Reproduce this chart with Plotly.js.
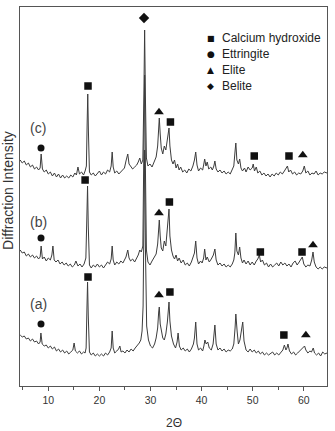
<!DOCTYPE html>
<html>
<head>
<meta charset="utf-8">
<script src="https://cdn.plot.ly/plotly-3.0.1.min.js"></script>
<style>html,body{margin:0;padding:0;background:#fff;}#chart{width:335px;height:431px;}</style>
</head>
<body>
<div id="chart"></div>
<script>
// XRD patterns: [2theta, intensity (arbitrary, stacked)]
const patternC = [[4.5,226],[4.9,223],[5.3,225],[5.7,221],[6.1,223],[6.5,219],[6.9,221],[7.3,217],[7.7,219],[8.1,216],[8.4,218],[8.6,232],[8.85,217],[9.2,214],[9.6,216],[10.0,212],[10.4,214],[10.8,210],[11.2,213],[11.6,209],[12.0,212],[12.4,208],[12.8,211],[13.2,208],[13.6,210],[14.0,208],[14.4,211],[14.8,209],[15.2,213],[15.5,211],[15.8,219],[16.1,212],[16.5,214],[16.9,211],[17.2,215],[17.45,220],[17.6,262],[17.72,292],[17.85,255],[18.05,214],[18.4,211],[18.8,213],[19.2,210],[19.6,212],[20.0,215],[20.4,211],[20.8,214],[21.2,212],[21.6,216],[22.0,214],[22.3,220],[22.5,234],[22.7,219],[23.0,213],[23.4,215],[23.8,212],[24.2,214],[24.6,216],[24.9,218],[25.2,225],[25.55,232],[25.8,222],[26.1,220],[26.5,217],[26.9,219],[27.3,221],[27.6,224],[27.9,228],[28.2,222],[28.5,226],[28.7,290],[28.85,356],[29.0,290],[29.2,228],[29.5,220],[29.9,222],[30.3,219],[30.7,224],[31.1,229],[31.4,240],[31.6,262],[31.72,268],[31.9,252],[32.1,238],[32.4,232],[32.7,240],[33.0,236],[33.3,246],[33.5,256],[33.62,258],[33.8,240],[34.1,226],[34.4,222],[34.7,226],[35.0,218],[35.3,222],[35.6,216],[35.9,219],[36.3,214],[36.7,216],[37.1,213],[37.5,217],[37.9,215],[38.3,220],[38.6,226],[38.85,234],[39.1,221],[39.4,215],[39.8,218],[40.2,216],[40.4,221],[40.6,227],[40.85,220],[41.1,224],[41.4,217],[41.8,219],[42.1,216],[42.4,220],[42.6,225],[42.85,217],[43.2,214],[43.6,216],[44.0,213],[44.4,215],[44.8,212],[45.2,214],[45.6,212],[46.0,216],[46.3,220],[46.55,235],[46.7,243],[46.9,226],[47.2,222],[47.45,227],[47.7,218],[48.0,215],[48.4,218],[48.7,214],[49.1,219],[49.5,216],[49.9,218],[50.1,222],[50.35,215],[50.7,219],[51.0,213],[51.4,215],[51.8,211],[52.2,213],[52.6,210],[53.0,212],[53.4,209],[53.8,212],[54.2,210],[54.6,213],[55.0,211],[55.4,214],[55.8,212],[56.2,215],[56.55,218],[56.8,220],[57.05,214],[57.4,216],[57.8,212],[58.2,214],[58.6,211],[59.0,213],[59.4,212],[59.8,215],[60.1,220],[60.4,213],[60.8,215],[61.2,211],[61.6,213],[62.0,212],[62.4,215],[62.8,211],[63.2,213],[63.6,212],[64.0,214],[64.54,213]];

const patternB = [[4.5,136],[4.9,133],[5.3,134],[5.7,130],[6.1,132],[6.5,129],[6.9,131],[7.3,128],[7.7,130],[8.1,127],[8.4,129],[8.6,140],[8.85,127],[9.2,129],[9.6,125],[10.0,128],[10.4,126],[10.7,131],[10.9,140],[11.15,126],[11.5,124],[11.9,126],[12.3,122],[12.7,124],[13.1,121],[13.5,123],[13.9,120],[14.3,122],[14.7,119],[15.1,121],[15.4,125],[15.8,120],[16.2,122],[16.6,119],[17.0,122],[17.35,128],[17.55,170],[17.68,200],[17.82,160],[18.05,121],[18.4,118],[18.8,121],[19.2,119],[19.6,122],[20.0,119],[20.4,121],[20.8,118],[21.2,121],[21.6,124],[22.0,122],[22.3,127],[22.5,140],[22.7,126],[23.0,121],[23.4,124],[23.8,122],[24.2,125],[24.6,123],[24.9,126],[25.2,129],[25.55,136],[25.8,128],[26.1,125],[26.5,127],[26.9,124],[27.3,128],[27.6,131],[27.9,136],[28.2,134],[28.5,140],[28.7,230],[28.85,311],[29.0,220],[29.2,136],[29.5,124],[29.9,121],[30.3,125],[30.7,128],[31.1,132],[31.4,142],[31.6,160],[31.72,166],[31.9,150],[32.1,138],[32.4,135],[32.7,145],[33.0,140],[33.3,155],[33.5,172],[33.62,177],[33.8,150],[34.1,136],[34.4,130],[34.7,127],[35.0,131],[35.3,125],[35.6,128],[36.0,123],[36.4,126],[36.8,121],[37.2,123],[37.6,120],[38.0,124],[38.3,128],[38.6,133],[38.85,145],[39.1,128],[39.4,122],[39.8,125],[40.1,123],[40.4,128],[40.6,137],[40.85,126],[41.1,129],[41.5,124],[41.9,127],[42.3,131],[42.6,137],[42.85,126],[43.2,121],[43.6,123],[44.0,120],[44.4,122],[44.8,119],[45.2,121],[45.6,119],[46.0,122],[46.3,126],[46.5,133],[46.7,153],[46.9,135],[47.2,131],[47.45,139],[47.7,128],[48.0,123],[48.3,126],[48.7,122],[49.1,125],[49.5,121],[49.9,124],[50.3,121],[50.7,125],[51.0,127],[51.3,131],[51.55,124],[51.9,126],[52.3,121],[52.7,123],[53.1,119],[53.5,122],[53.9,119],[54.3,121],[54.7,123],[55.1,120],[55.5,124],[55.9,121],[56.3,123],[56.7,120],[57.1,122],[57.5,119],[57.9,123],[58.3,125],[58.7,121],[59.1,124],[59.4,127],[59.7,129],[60.0,122],[60.4,119],[60.8,121],[61.2,120],[61.55,126],[61.8,134],[62.05,124],[62.4,119],[62.8,117],[63.2,119],[63.6,117],[64.0,119],[64.54,118]];

const patternA = [[4.5,51],[4.9,49],[5.3,50],[5.7,47],[6.1,48],[6.5,45],[6.9,47],[7.3,44],[7.7,45],[8.1,42],[8.4,44],[8.55,53],[8.8,42],[9.2,40],[9.6,41],[10.0,38],[10.4,40],[10.8,37],[11.2,39],[11.6,35],[12.0,37],[12.4,34],[12.8,36],[13.2,33],[13.6,35],[14.0,32],[14.4,34],[14.8,36],[15.05,43],[15.3,35],[15.7,33],[16.1,35],[16.5,32],[16.9,34],[17.2,33],[17.4,38],[17.55,75],[17.68,104],[17.82,70],[18.05,34],[18.4,31],[18.8,33],[19.2,30],[19.6,32],[20.0,30],[20.4,32],[20.8,30],[21.2,33],[21.6,31],[22.0,34],[22.3,38],[22.5,55],[22.7,38],[23.0,33],[23.4,35],[23.75,37],[24.0,40],[24.25,34],[24.6,35],[25.0,33],[25.4,36],[25.8,34],[26.2,37],[26.6,35],[27.0,38],[27.4,40],[27.8,43],[28.1,46],[28.35,55],[28.55,80],[28.7,170],[28.85,236],[29.0,140],[29.25,60],[29.6,46],[30.0,40],[30.4,38],[30.8,42],[31.1,48],[31.4,58],[31.6,74],[31.72,79],[31.9,62],[32.1,55],[32.4,48],[32.7,46],[33.0,52],[33.3,64],[33.5,80],[33.62,84],[33.8,65],[34.1,50],[34.5,42],[34.9,38],[35.2,44],[35.4,53],[35.65,40],[36.0,36],[36.4,38],[36.8,35],[37.2,37],[37.6,34],[38.0,37],[38.4,42],[38.6,48],[38.85,64],[39.1,42],[39.4,36],[39.8,38],[40.2,35],[40.45,40],[40.65,46],[40.9,42],[41.2,44],[41.5,38],[41.9,36],[42.25,42],[42.6,61],[42.85,42],[43.2,36],[43.6,38],[44.0,35],[44.4,37],[44.8,34],[45.2,36],[45.6,35],[46.0,37],[46.3,42],[46.55,58],[46.7,72],[46.95,55],[47.2,42],[47.5,46],[47.85,56],[48.05,64],[48.3,45],[48.7,36],[49.1,34],[49.5,37],[49.9,34],[50.3,36],[50.7,33],[51.1,35],[51.5,32],[51.9,34],[52.3,31],[52.7,33],[53.1,31],[53.5,33],[53.9,34],[54.3,31],[54.7,33],[55.1,31],[55.5,34],[55.9,36],[56.2,41],[56.5,36],[56.7,38],[56.9,42],[57.2,35],[57.6,32],[58.0,34],[58.4,31],[58.8,33],[59.2,35],[59.6,37],[59.9,39],[60.15,40],[60.4,36],[60.8,33],[61.2,35],[61.5,34],[61.85,38],[62.1,33],[62.5,31],[62.9,33],[63.3,30],[63.7,34],[64.1,32],[64.54,33]];

// phase markers above peaks: [2theta, intensity]
const calciumHydroxide = [[17.77,300],[33.9,264],[50.3,230],[57.1,230],[17.2,206],[33.7,184],[51.5,134],[59.65,134],[17.77,109],[33.8,94],[56.1,51]];
const ettringite = [[8.57,238],[8.57,148],[8.57,62]];
const elite = [[31.66,274],[59.8,231],[31.66,173],[61.8,141],[31.66,91],[60.4,51]];
const belite = [[28.73,368]];

// sample labels: [2theta, intensity, text]
const sampleLabels = [[8.0,258,'(c)'],[8.0,164,'(b)'],[8.0,82,'(a)']];

// legend
const legendNames = ['Calcium hydroxide','Ettringite','Elite','Belite'];
const legendGlyphs = ['\u25A0','\u25CF','\u25B2','\u25C6'];

const xTicks = [10,20,30,40,50,60];

const FONT = 'Liberation Sans, Arial, sans-serif';
const col = (arr, i) => arr.map(p => p[i]);

function lineTrace(p) {
  return {x: col(p,0), y: col(p,1), mode: 'lines', type: 'scatter',
    line: {color: '#3c3c3c', width: 1}, showlegend: false, hoverinfo: 'skip'};
}
function markTrace(p, symbol, size) {
  return {x: col(p,0), y: col(p,1), mode: 'markers', type: 'scatter',
    marker: {symbol: symbol, size: size, color: '#111'}, showlegend: false, hoverinfo: 'skip'};
}

const data = [
  lineTrace(patternC), lineTrace(patternB), lineTrace(patternA),
  markTrace(calciumHydroxide, 'square', 7.5),
  markTrace(ettringite, 'circle', 7),
  markTrace(elite, 'triangle-up', 8.5),
  markTrace(belite, 'diamond', 8)
];

const annotations = [];
sampleLabels.forEach(s => annotations.push({x: s[0], y: s[1], xref: 'x', yref: 'y', text: s[2],
  showarrow: false, font: {family: FONT, size: 14, color: '#444'}, xanchor: 'center', yanchor: 'middle'}));

const rowsY = [0.9182, 0.876, 0.8338, 0.7916];
legendNames.forEach((n, i) => {
  annotations.push({xref: 'paper', yref: 'paper', x: 0.6221, y: rowsY[i], text: legendGlyphs[i],
    showarrow: false, xanchor: 'center', yanchor: 'middle',
    font: {family: 'DejaVu Sans', size: i === 0 ? 8 : 9, color: '#111'}});
  annotations.push({xref: 'paper', yref: 'paper', x: 0.6515, y: rowsY[i], text: n,
    showarrow: false, xanchor: 'left', yanchor: 'middle',
    font: {family: FONT, size: 12, color: '#222'}});
});

annotations.push({xref: 'paper', yref: 'paper', x: -0.0395, y: 0.517, text: 'Diffraction Intensity',
  textangle: -90, showarrow: false, xanchor: 'center', yanchor: 'middle',
  font: {family: FONT, size: 14, color: '#333'}});
annotations.push({xref: 'paper', yref: 'paper', x: 0.5, y: -0.0976, text: '2\u0398',
  showarrow: false, xanchor: 'center', yanchor: 'middle',
  font: {family: FONT, size: 12, color: '#333'}});

const layout = {
  width: 335, height: 431,
  margin: {l: 20, r: 8, t: 7, b: 45, pad: 0},
  paper_bgcolor: '#fff', plot_bgcolor: '#fff',
  showlegend: false,
  xaxis: {range: [4.46, 64.54], tickvals: xTicks, ticktext: xTicks.map(String),
    ticks: 'outside', ticklen: 4, tickwidth: 1, tickcolor: '#555',
    minor: {tickvals: [5,15,25,35,45,55], ticks: 'outside', ticklen: 3, tickcolor: '#555'},
    showgrid: false, zeroline: false, showline: true, linecolor: '#555', linewidth: 1.3, mirror: true,
    tickfont: {family: FONT, size: 10.5, color: '#333'}},
  yaxis: {range: [0, 379], showticklabels: false, ticks: '', showgrid: false, zeroline: false,
    showline: true, linecolor: '#555', linewidth: 1.3, mirror: true},
  annotations: annotations
};

Plotly.newPlot('chart', data, layout, {staticPlot: true, displayModeBar: false});
</script>
</body>
</html>
